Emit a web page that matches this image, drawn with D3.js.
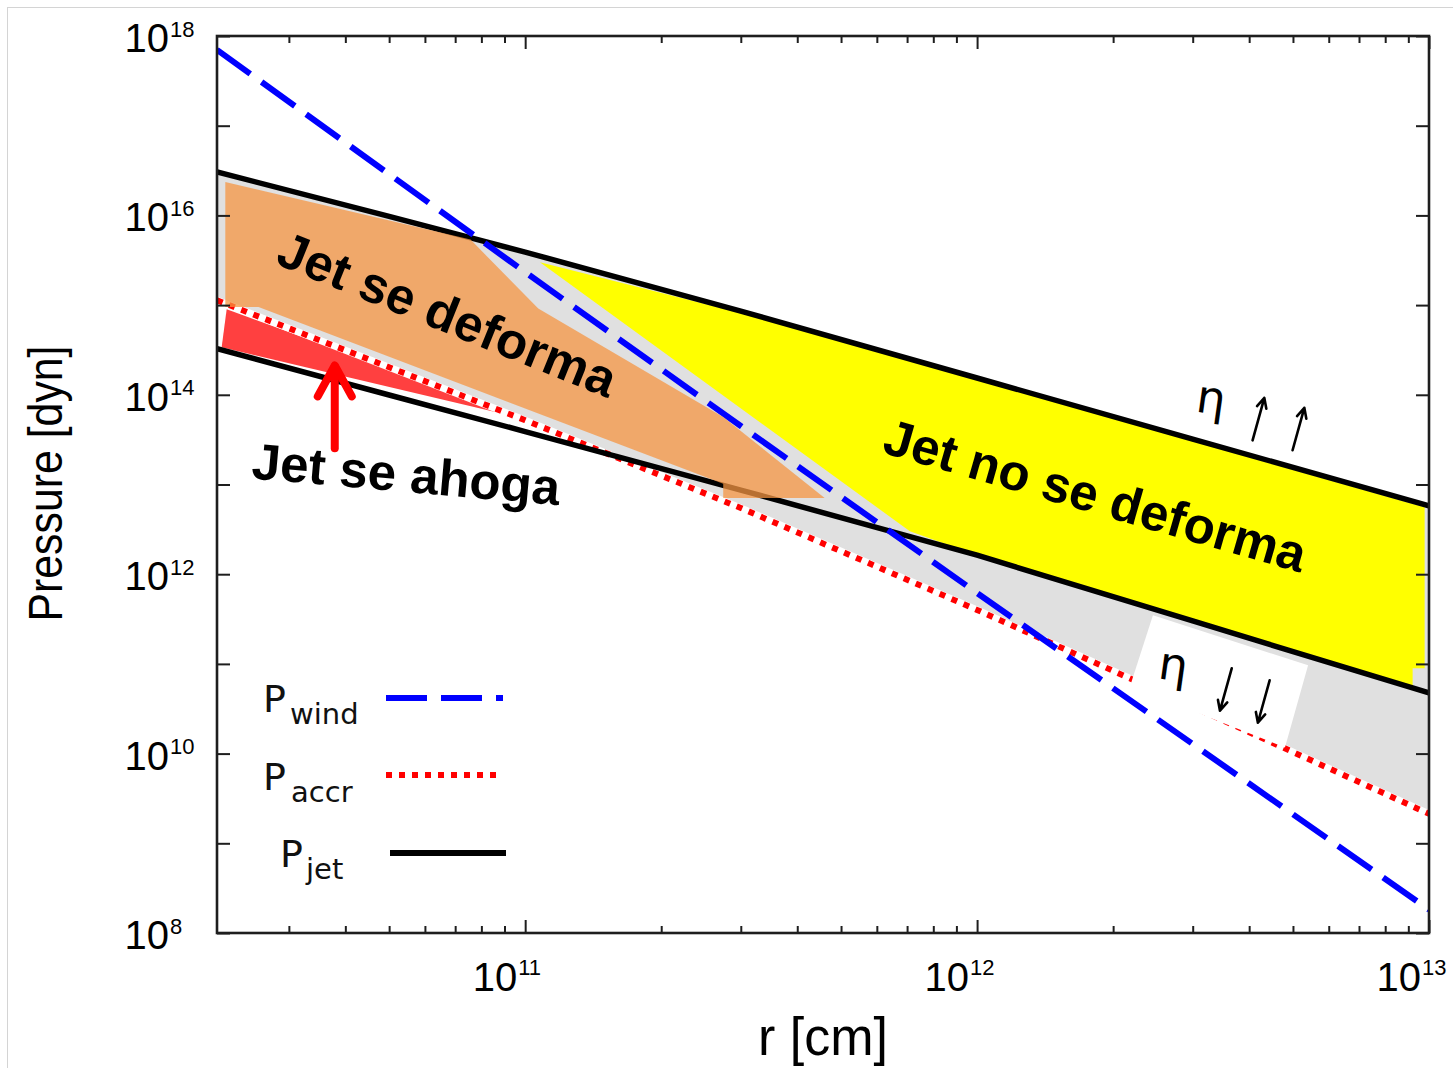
<!DOCTYPE html>
<html>
<head>
<meta charset="utf-8">
<script src="https://cdn.jsdelivr.net/npm/d3@7"></script>
<style>
  body { margin: 0; background: #fff; }
  svg { display: block; }
</style>
</head>
<body>
<svg id="chart" width="1453" height="1068"></svg>
<script>
// ---- data: pressures [dyn] sampled on a radius grid [cm] ----
const radius   = [2.08e10, 5e10, 1e11, 3e11, 1e12, 3e12, 1e13];
const pWind    = [7.01e17, 2.88e16, 2.33e15, 4.49e13, 6.17e11, 1.28e10, 1.82e8];
const pAccr    = [1.13e15, 2.03e14, 5.21e13, 5.47e12, 4.00e11, 3.35e10, 2.13e9];
const pJetHigh = [3.05e16, 9.77e15, 3.90e15, 8.57e14, 1.54e14, 3.21e13, 5.77e12];
const pJetLow  = [3.27e14, 9.95e13, 3.89e13, 8.67e12, 1.63e12, 3.01e11, 4.74e10];

// highlighted regions, as [r, P] outlines
const deformaRegion = [[2.17e10, 2.36e16], [7.57e10, 5.37e15], [1.069e11, 9.14e14], [2.743e11, 5.66e13],
  [4.60e11, 7.08e12], [2.743e11, 7.08e12], [2.743e11, 1.02e13], [1.069e11, 6.17e13],
  [2.57e10, 9.53e14], [2.17e10, 9.53e14]];
const noDeformaRegion = [[1.078e11, 3.00e15], [3e11, 8.15e14], [1e12, 1.46e14], [3e12, 3.05e13],
  [9.78e12, 5.57e12], [9.78e12, 8.93e10], [9.20e12, 8.93e10], [9.20e12, 5.32e10],
  [3e12, 3.01e11], [1e12, 1.63e12], [7.10e11, 3.01e12]];
const ahogaRegion = [[2.185e10, 8.98e14], [1.024e11, 5.20e13], [2.13e10, 3.38e14]];
const etaDownBox = [[2.45e12, 3.48e11], [5.40e12, 9.64e10], [4.80e12, 1.17e10], [2.18e12, 5.65e10]];

// axis ticks and labels
const rDomain = [2.08e10, 1e13];
const pDomain = [1e8, 1e18];
const xLabelExp = [11, 12, 13];
const yLabelExp = [8, 10, 12, 14, 16, 18];
const xTitle = "r [cm]";
const yTitle = "Pressure [dyn]";

// annotations: [r, P] anchor, rotation
const notes = [
  {text: "Jet se deforma",    at: [2.78e10, 2.92e15], angle: 22},
  {text: "Jet no se deforma", at: [6.12e11, 2.29e13], angle: 16},
  {text: "Jet se ahoga",      at: [2.47e10, 1.17e13], angle: 5}
];
// eta symbols and the arrows beside them: arrow tail [r, P], +1 up / -1 down
const etaLabels = [[3.03e12, 6.5e13], [2.50e12, 6.9e10]];
const etaArrows = [
  {at: [4.07e12, 3.11e13], dir: 1}, {at: [4.99e12, 2.41e13], dir: 1},
  {at: [3.66e12, 8.93e10], dir: -1}, {at: [4.44e12, 6.56e10], dir: -1}
];
const arrowFrom = [3.79e10, 2.54e13];
const arrowTo   = [3.79e10, 2.24e14];

const legendItems = [
  {name: "P", sub: "wind", color: "#0000ff", dash: "41,14", width: 6},
  {name: "P", sub: "accr", color: "#ff0000", dash: "6,7",   width: 6},
  {name: "P", sub: "jet",  color: "#000000", dash: null,    width: 6}
];

// ---- layout ----
const W = 1453, H = 1068;
const margin = {top: 36, right: 24, bottom: 135, left: 217};
const svg = d3.select("#chart");

const x = d3.scaleLog().domain(rDomain).range([margin.left, W - margin.right]);
const y = d3.scaleLog().domain(pDomain).range([H - margin.bottom, margin.top]);
const x0 = x.range()[0], x1 = x.range()[1];
const y0 = y.range()[0], y1 = y.range()[1];

// light page border
svg.append("rect").attr("x", 7.5).attr("y", 7.5).attr("width", W).attr("height", H)
  .attr("fill", "none").attr("stroke", "#d4d4d4").attr("stroke-width", 1);

svg.append("clipPath").attr("id", "plot-clip")
  .append("rect").attr("x", x0).attr("y", y1).attr("width", x1 - x0).attr("height", y0 - y1);

const plot = svg.append("g").attr("clip-path", "url(#plot-clip)");

const series = (vals) => radius.map((r, i) => [r, vals[i]]);
const line = d3.line().x(d => x(d[0])).y(d => y(d[1]));
const outline = pts => line(pts) + "Z";

// shaded band between the accretion pressure and the upper jet pressure
const band = d3.area()
  .x((r) => x(r))
  .y0((r, i) => y(pAccr[i]))
  .y1((r, i) => y(pJetHigh[i]));
plot.append("path").attr("d", band(radius)).attr("fill", "#e0e0e0");

plot.append("path").attr("d", outline(noDeformaRegion)).attr("fill", "#ffff00");
plot.append("path").attr("d", outline(ahogaRegion)).attr("fill", "#ff4040");

// curves
plot.append("path").attr("d", line(series(pAccr)))
  .attr("fill", "none").attr("stroke", "#fff").attr("stroke-width", 7);
plot.append("path").attr("d", line(series(pAccr)))
  .attr("fill", "none").attr("stroke", "#ff0000").attr("stroke-width", 6)
  .attr("stroke-dasharray", "6,7");
[pJetHigh, pJetLow].forEach(vals => {
  plot.append("path").attr("d", line(series(vals)))
    .attr("fill", "none").attr("stroke", "#000").attr("stroke-width", 5.5)
    .attr("stroke-linejoin", "round");
});
plot.append("path").attr("d", line(series(pWind)))
  .attr("fill", "none").attr("stroke", "#0000ff").attr("stroke-width", 6)
  .attr("stroke-dasharray", "41,14");

// translucent overlay for the deformation zone, white box under the lower eta note
plot.append("path").attr("d", outline(deformaRegion))
  .attr("fill", "rgb(245,149,67)").attr("fill-opacity", 0.75);
plot.append("path").attr("d", outline(etaDownBox)).attr("fill", "#fff");

// ---- axes ----
const axisColor = "#1e1e1e";
const xMinor = [];
[1e10, 1e11, 1e12].forEach(dec => {
  for (let k = 2; k <= 9; k++) {
    const v = k * dec;
    if (v >= rDomain[0] && v <= rDomain[1]) xMinor.push(v);
  }
});
const xMajor = xLabelExp.map(e => Math.pow(10, e));
const yMajor = d3.range(8, 19).map(e => Math.pow(10, e));

function styleAxis(g) {
  g.select(".domain").remove();
  g.selectAll(".tick line").attr("stroke", axisColor).attr("stroke-width", 2);
  g.selectAll(".tick text").remove();
}
const axes = svg.append("g");
axes.append("g").attr("transform", `translate(0,${y0})`)
  .call(d3.axisBottom(x).tickValues(xMinor).tickSize(-7).tickSizeOuter(0)).call(styleAxis);
axes.append("g").attr("transform", `translate(0,${y0})`)
  .call(d3.axisBottom(x).tickValues(xMajor).tickSize(-13).tickSizeOuter(0)).call(styleAxis);
axes.append("g").attr("transform", `translate(0,${y1})`)
  .call(d3.axisTop(x).tickValues(xMinor).tickSize(-7).tickSizeOuter(0)).call(styleAxis);
axes.append("g").attr("transform", `translate(0,${y1})`)
  .call(d3.axisTop(x).tickValues(xMajor).tickSize(-13).tickSizeOuter(0)).call(styleAxis);
axes.append("g").attr("transform", `translate(${x0},0)`)
  .call(d3.axisLeft(y).tickValues(yMajor).tickSize(-13).tickSizeOuter(0)).call(styleAxis);
axes.append("g").attr("transform", `translate(${x1},0)`)
  .call(d3.axisRight(y).tickValues(yMajor).tickSize(-13).tickSizeOuter(0)).call(styleAxis);

axes.append("rect").attr("x", x0).attr("y", y1).attr("width", x1 - x0).attr("height", y0 - y1)
  .attr("fill", "none").attr("stroke", axisColor).attr("stroke-width", 2.6);

const tickFont = "'Liberation Sans', Arial, Helvetica, sans-serif";
xLabelExp.forEach(e => {
  const px = x(Math.pow(10, e));
  axes.append("text").attr("x", px - 8).attr("y", y0 + 58)
    .attr("text-anchor", "end").attr("font-family", tickFont).attr("font-size", 40).text("10");
  axes.append("text").attr("x", px - 7).attr("y", y0 + 41.5)
    .attr("text-anchor", "start").attr("font-family", tickFont).attr("font-size", 22).text(String(e));
});
yLabelExp.forEach(e => {
  const py = y(Math.pow(10, e));
  axes.append("text").attr("x", x0 - 48).attr("y", py + 16)
    .attr("text-anchor", "end").attr("font-family", tickFont).attr("font-size", 40).text("10");
  axes.append("text").attr("x", x0 - 47).attr("y", py + 0.5)
    .attr("text-anchor", "start").attr("font-family", tickFont).attr("font-size", 22).text(String(e));
});

svg.append("text").attr("x", (x0 + x1) / 2 + 0).attr("y", H - 13)
  .attr("text-anchor", "middle").attr("font-family", tickFont).attr("font-size", 54)
  .attr("textLength", 130).attr("lengthAdjust", "spacingAndGlyphs").text(xTitle);
svg.append("text")
  .attr("transform", `translate(62,${(y0 + y1) / 2 - 1}) rotate(-90)`)
  .attr("text-anchor", "middle").attr("font-family", tickFont).attr("font-size", 48)
  .attr("textLength", 276).attr("lengthAdjust", "spacingAndGlyphs").text(yTitle);

// ---- annotations ----
const ann = svg.append("g");
notes.forEach(n => {
  ann.append("text")
    .attr("transform", `translate(${x(n.at[0])},${y(n.at[1])}) rotate(${n.angle})`)
    .attr("font-family", "'Liberation Sans', Arial, sans-serif").attr("font-weight", "bold")
    .attr("font-size", 51).attr("fill", "#000").text(n.text);
});
etaLabels.forEach(p => {
  ann.append("text")
    .attr("transform", `translate(${x(p[0])},${y(p[1])}) rotate(8)`)
    .attr("font-family", "'DejaVu Sans', sans-serif").attr("font-size", 46)
    .attr("fill", "#000").text("η");
});
// thin arrows tilted along the jet direction
const tilt = 15.5 * Math.PI / 180, arrowLen = 44, headLen = 11, headAng = 26 * Math.PI / 180;
etaArrows.forEach(a => {
  const tx = x(a.at[0]), ty = y(a.at[1]);
  const ux = Math.sin(tilt) * a.dir, uy = -Math.cos(tilt) * a.dir;
  const hx = tx + ux * arrowLen, hy = ty + uy * arrowLen;
  const back = Math.atan2(-uy, -ux);
  const w1 = [hx + headLen * Math.cos(back + headAng), hy + headLen * Math.sin(back + headAng)];
  const w2 = [hx + headLen * Math.cos(back - headAng), hy + headLen * Math.sin(back - headAng)];
  ann.append("path")
    .attr("d", `M${tx},${ty}L${hx},${hy}M${w1[0]},${w1[1]}L${hx},${hy}L${w2[0]},${w2[1]}`)
    .attr("fill", "none").attr("stroke", "#000").attr("stroke-width", 2.6)
    .attr("stroke-linecap", "round").attr("stroke-linejoin", "round");
});
const ax = x(arrowTo[0]), ayTip = y(arrowTo[1]), ayBase = y(arrowFrom[1]);
ann.append("line").attr("x1", ax).attr("y1", ayBase).attr("x2", ax).attr("y2", ayTip + 3)
  .attr("stroke", "#ff0000").attr("stroke-width", 8).attr("stroke-linecap", "round");
ann.append("path").attr("d", `M${ax - 17},${ayTip + 33}L${ax},${ayTip + 2}L${ax + 17},${ayTip + 33}`)
  .attr("fill", "none").attr("stroke", "#ff0000").attr("stroke-width", 8)
  .attr("stroke-linecap", "round").attr("stroke-linejoin", "round");

// ---- legend ----
const legend = svg.append("g");
const legendFont = "'DejaVu Sans', Verdana, sans-serif";
const legendRows = [
  {tx: 263, ty: 712, sx: 290, lx0: 386, lx1: 503, ly: 698},
  {tx: 263, ty: 790, sx: 291, lx0: 386, lx1: 503, ly: 775},
  {tx: 280, ty: 867, sx: 306, lx0: 390, lx1: 506, ly: 853}
];
legendItems.forEach((it, i) => {
  const row = legendRows[i];
  const t = legend.append("text").attr("x", row.tx).attr("y", row.ty)
    .attr("font-family", legendFont).attr("font-size", 38).attr("fill", "#111");
  t.append("tspan").text(it.name);
  t.append("tspan").attr("x", row.sx).attr("dy", 12).attr("font-size", 29).text(it.sub);
  const l = legend.append("line").attr("x1", row.lx0).attr("x2", row.lx1)
    .attr("y1", row.ly).attr("y2", row.ly)
    .attr("stroke", it.color).attr("stroke-width", it.width);
  if (it.dash) l.attr("stroke-dasharray", it.dash);
});
</script>
</body>
</html>
